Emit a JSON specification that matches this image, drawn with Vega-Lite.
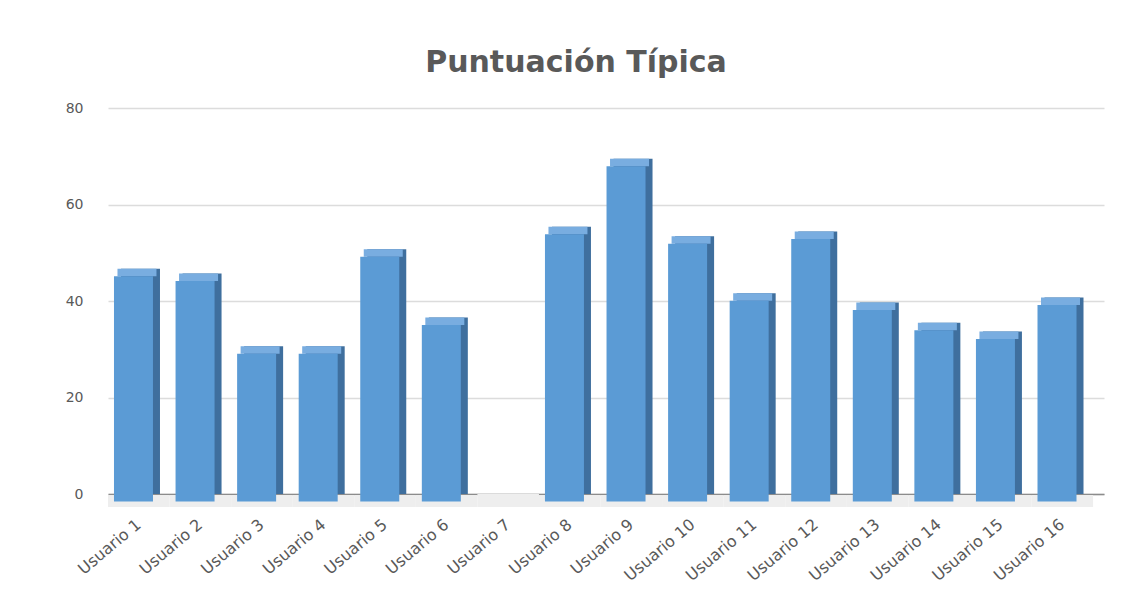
{
  "$schema": "https://vega.github.io/schema/vega-lite/v6.json",
  "width": 996,
  "height": 386,
  "autosize": {"type": "none"},
  "padding": {"left": 108, "top": 108, "right": 24, "bottom": 114},
  "background": "white",
  "config": {"view": {"stroke": null}, "font": "DejaVu Sans", "mark": {"invalid": "show"}},
  "title": {
    "text": "Puntuación Típica",
    "font": "DejaVu Sans",
    "fontSize": 30,
    "fontWeight": "bold",
    "color": "#595959",
    "anchor": "middle",
    "frame": "group",
    "baseline": "alphabetic",
    "offset": -1,
    "dx": -30
  },
  "data": {
    "values": [
      {"usuario": "Usuario 1", "puntuacion": 46.7},
      {"usuario": "Usuario 2", "puntuacion": 45.7},
      {"usuario": "Usuario 3", "puntuacion": 30.6},
      {"usuario": "Usuario 4", "puntuacion": 30.6},
      {"usuario": "Usuario 5", "puntuacion": 50.7},
      {"usuario": "Usuario 6", "puntuacion": 36.6},
      {"usuario": "Usuario 7", "puntuacion": null},
      {"usuario": "Usuario 8", "puntuacion": 55.4},
      {"usuario": "Usuario 9", "puntuacion": 69.5},
      {"usuario": "Usuario 10", "puntuacion": 53.4},
      {"usuario": "Usuario 11", "puntuacion": 41.6},
      {"usuario": "Usuario 12", "puntuacion": 54.4},
      {"usuario": "Usuario 13", "puntuacion": 39.7},
      {"usuario": "Usuario 14", "puntuacion": 35.5},
      {"usuario": "Usuario 15", "puntuacion": 33.7},
      {"usuario": "Usuario 16", "puntuacion": 40.7}
    ]
  },
  "encoding": {
    "x": {
      "field": "usuario",
      "type": "nominal",
      "title": null,
      "scale": {
        "domain": ["Usuario 1", "Usuario 2", "Usuario 3", "Usuario 4", "Usuario 5", "Usuario 6", "Usuario 7", "Usuario 8", "Usuario 9", "Usuario 10", "Usuario 11", "Usuario 12", "Usuario 13", "Usuario 14", "Usuario 15", "Usuario 16"],
        "paddingInner": 0,
        "paddingOuter": 0.0886,
        "align": 0
      },
      "axis": {
        "labelAngle": -40,
        "labelAlign": "right",
        "labelBaseline": "middle",
        "labelPadding": 28,
        "labelFontSize": 16,
        "labelFont": "DejaVu Sans",
        "labelColor": "#595959",
        "ticks": false,
        "tickSize": 0,
        "domainColor": "#8c8c8c",
        "domainWidth": 1.5,
        "grid": false
      }
    },
    "y": {
      "field": "puntuacion",
      "type": "quantitative",
      "title": null,
      "scale": {"domain": [0, 80]},
      "axis": {
        "values": [0, 20, 40, 60, 80],
        "labelFontSize": 14,
        "labelFont": "DejaVu Sans",
        "labelColor": "#595959",
        "labelPadding": 25,
        "ticks": false,
        "tickSize": 0,
        "domain": false,
        "grid": true,
        "gridColor": "#dcdcdc",
        "gridWidth": 1.3
      }
    }
  },
  "layer": [
    {
      "mark": {"type": "bar", "width": {"band": 1}, "yOffset": 1, "y2Offset": 13, "color": "#eeeeee"},
      "encoding": {"y": {"datum": 0}, "y2": {"datum": 0}}
    },
    {
      "transform": [{"filter": {"field": "puntuacion", "valid": true}}],
      "mark": {"type": "bar", "width": 39, "xOffset": 1.7, "color": "#3F6F9E"},
      "encoding": {"y2": {"datum": 0}}
    },
    {
      "transform": [{"filter": {"field": "puntuacion", "valid": true}}],
      "mark": {"type": "bar", "width": 39, "xOffset": -1.8, "y2Offset": 7.5, "color": "#79ADE0"},
      "encoding": {"y2": {"field": "puntuacion"}}
    },
    {
      "transform": [{"filter": {"field": "puntuacion", "valid": true}}],
      "mark": {"type": "bar", "width": 39, "xOffset": -5.3, "yOffset": 7.5, "y2Offset": 7.5, "color": "#5B9BD5"},
      "encoding": {"y2": {"datum": 0}}
    }
  ]
}
